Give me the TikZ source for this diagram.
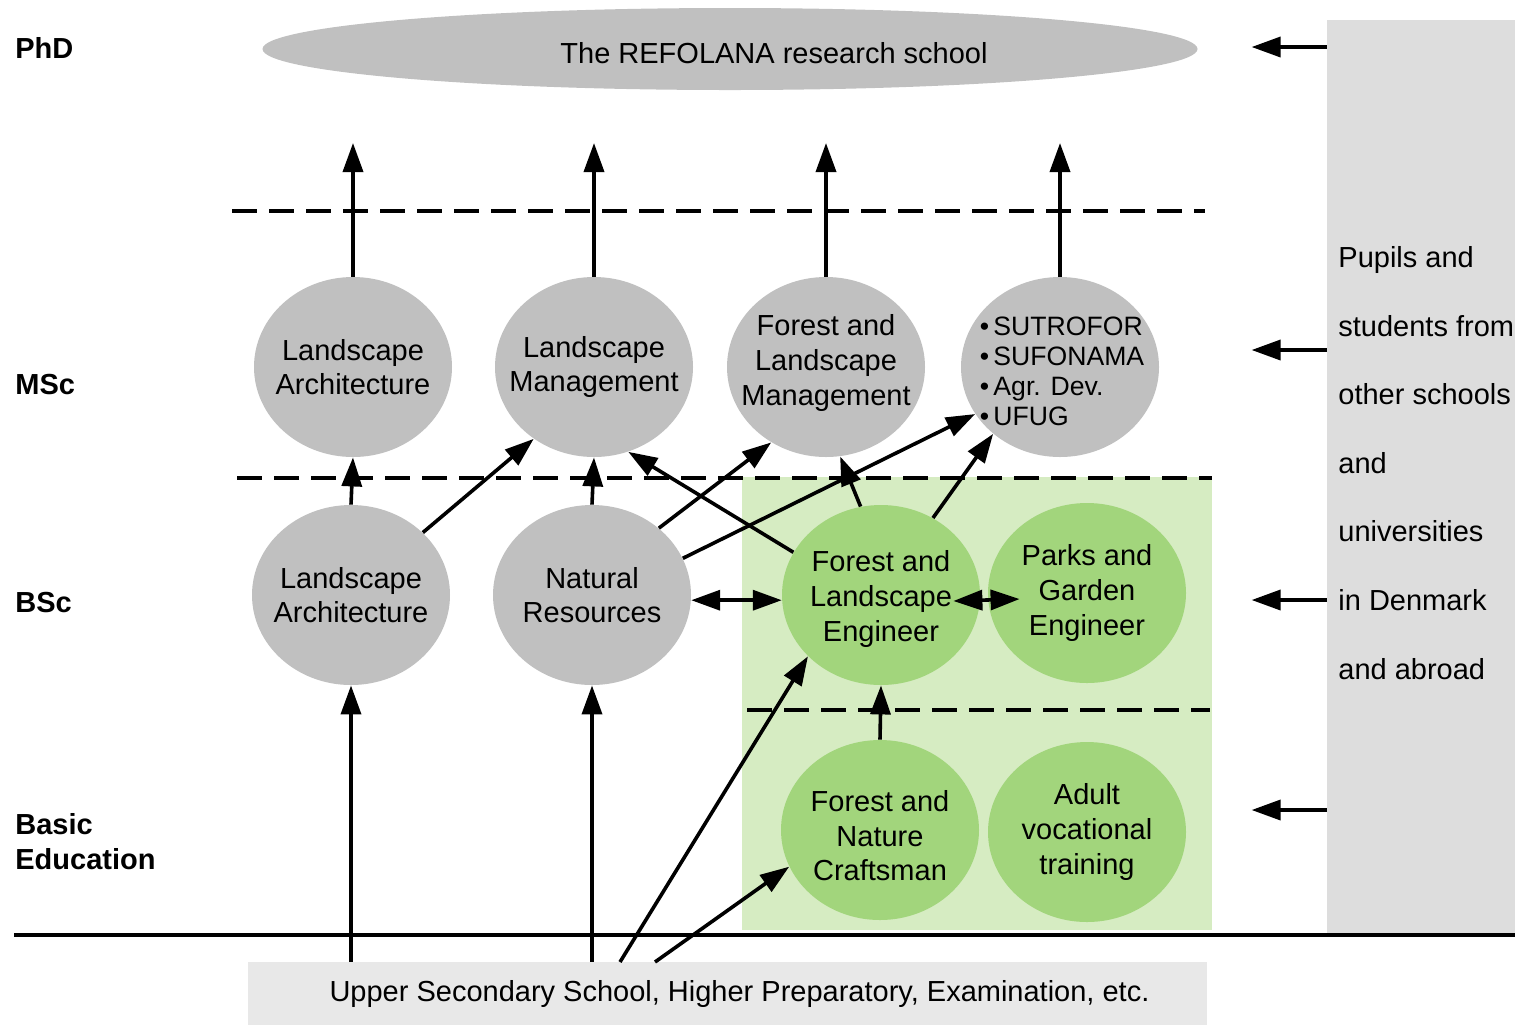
\documentclass[tikz,border=0pt]{standalone}
\usepackage{fontspec}
\setmainfont{Liberation Sans}
\usetikzlibrary{positioning, arrows.meta, shapes.geometric}
\definecolor{circGray}{RGB}{192, 192, 192}
\definecolor{sideGray}{RGB}{221, 221, 221}
\definecolor{baseGray}{RGB}{232, 232, 232}
\definecolor{zoneGreen}{RGB}{214, 236, 194}
\definecolor{circGreen}{RGB}{162, 213, 124}

\begin{document}
\begin{tikzpicture}[x=0.5pt, y=-0.5pt, >={Triangle[length=14.5pt, width=10pt]},
    prog/.style={ellipse, fill=circGray, minimum width=99pt, minimum height=90pt, inner sep=0pt},
    progG/.style={prog, fill=circGreen},
    txt/.style={align=center, inner sep=0pt, font=\fontsize{14.5}{17.3}\selectfont},
    level/.style={anchor=west, align=left, inner sep=0pt, font=\fontsize{14.5}{17.5}\selectfont\bfseries},
    link/.style={->, line width=1.8pt},
    both/.style={<->, line width=1.8pt},
    split/.style={line width=1.6pt, dash pattern=on 12.5pt off 6pt}]
    \useasboundingbox (0,0) rectangle (1515,1025);

    % backgrounds
    \node[fill=sideGray, minimum width=94pt, minimum height=457.5pt, inner sep=0pt] (side) at (1421,477.5) {};
    \fill[zoneGreen] (742,477) rectangle (1212,930);
    \node[fill=baseGray, minimum width=479.5pt, minimum height=31.5pt, inner sep=0pt,
        label={[txt, xshift=6pt]center:Upper Secondary School, Higher Preparatory, Examination, etc.}] (base) at (727.5,993.5) {};

    % level dividers
    \draw[split] (232,211) -- (1205,211);
    \draw[split] (237,478) -- (1212,478);
    \draw[split] (747,710) -- (1210,710);
    \draw[line width=1.6pt] (14,935) -- (1515,935);

    % level names
    \node[level] (lphd) at (15,48) {PhD};
    \node[level] (lmsc) at (15,385) {MSc};
    \node[level] (lbsc) at (15,602) {BSc};
    \node[level] (lbas) at (15,842) {Basic\\Education};

    % PhD
    \node[ellipse, fill=circGray, minimum width=467.5pt, minimum height=41pt, inner sep=0pt,
        label={[txt, xshift=22pt, yshift=-2pt]center:The REFOLANA research school}] (phd) at (730,49) {};

    % MSc
    \node[prog, label={[txt]center:Landscape\\Architecture}] (lam) at (353,367) {};
    \node[prog, label={[txt]center:Landscape\\Management}] (lm) at (594,367) {};
    \node[prog, label={[txt, yshift=2pt]center:Forest and\\Landscape\\Management}] (flm) at (826,367) {};
    \node[prog, label={[txt, align=left, font=\fontsize{13.3}{15}\selectfont, xshift=1pt, yshift=-2pt]center:%
        \textbullet\,SUTROFOR\\\textbullet\,SUFONAMA\\\textbullet\,Agr. Dev.\\\textbullet\,UFUG}] (sut) at (1060,367) {};

    % BSc
    \node[prog, label={[txt]center:Landscape\\Architecture}] (lab) at (351,595) {};
    \node[prog, label={[txt]center:Natural\\Resources}] (nr) at (592,595) {};
    \node[progG, label={[txt, yshift=-2pt]center:Forest and\\Landscape\\Engineer}] (fle) at (881,595) {};
    \node[progG, label={[txt]center:Parks and\\Garden\\Engineer}] (pge) at (1087,593) {};

    % Basic education
    \node[progG, label={[txt, yshift=-3pt]center:Forest and\\Nature\\Craftsman}] (craft) at (880,830) {};
    \node[progG, label={[txt]center:Adult\\vocational\\training}] (avt) at (1087,832) {};

    % students from outside
    \node[anchor=west, align=left, inner sep=0pt, font=\fontsize{14.5}{34.3}\selectfont] (pupils) at (1338,463)
        {Pupils and\\students from\\other schools\\and\\universities\\in Denmark\\and abroad};

    % MSc to PhD
    \coordinate (ceil) at (0,143);
    \foreach \n in {lam, lm, flm, sut}
        \draw[link] (\n.north) -- (\n.north |- ceil);

    % BSc to MSc
    \draw[link] (lab.north) -- (lam.south);
    \draw[link] (lab.41) -- (lm.230);
    \draw[link] (nr.north) -- (lm.south);
    \draw[link] (nr.45) -- (flm.234);
    \draw[link] (nr.22) -- (sut.209);
    \draw[link] (fle.154) -- (lm.292);
    \draw[link] (fle.103) -- (flm.279);
    \draw[link] (fle.56) -- (sut.225);
    \draw[both] (nr.-3) -- (fle.183);
    \draw[both] ([xshift=-13.5pt, yshift=-3pt]fle.east) -- ([xshift=16pt, yshift=-3pt]pge.west);
    \draw[link] (craft.north) -- (fle.south);

    % entry
    \coordinate (b3) at (620,962);
    \coordinate (b4) at (655,962);
    \draw[link] (lab.south |- base.north) -- (lab.south);
    \draw[link] (nr.south |- base.north) -- (nr.south);
    \draw[link] (b3) -- (fle.220);
    \draw[link] (b4) -- (craft.202);

    % from other schools
    \foreach \y in {47, 350, 600, 810}
        \draw[link] (side.west |- 0,\y) -- ++(-75,0);
\end{tikzpicture}
\end{document}
